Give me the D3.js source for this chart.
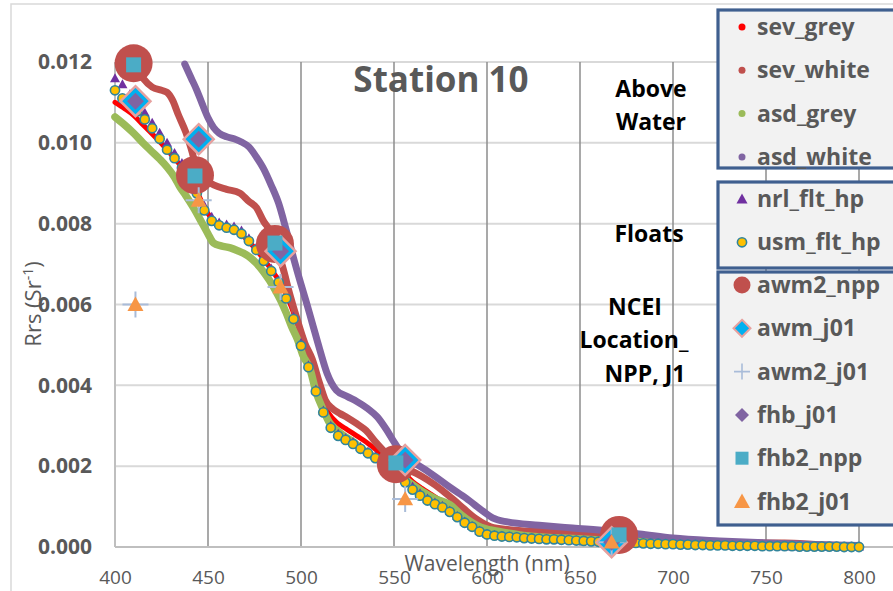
<!DOCTYPE html>
<html>
<head>
<meta charset="utf-8">
<script src="https://cdn.jsdelivr.net/npm/d3@7"></script>
<style>
  body { margin: 0; background: #fff; }
  text { font-family: "Open Sans", sans-serif; }
</style>
</head>
<body>
<div id="chart"></div>
<script>
// Rrs values below are in units of 1e-3 sr^-1
var xTicks = [400, 450, 500, 550, 600, 650, 700, 750, 800];
var yTicks = [0, 2, 4, 6, 8, 10, 12];

// above water, spectrometer lines [wavelength, Rrs]
var sevGrey = [[400,11.0],[405,10.85],[410,10.68],[415,10.45],[420,10.22],[425,9.98],[430,9.72],[435,9.45],[440,9.15],[445,8.7],
  [450,8.25],[455,8.0],[460,7.9],[465,7.82],[470,7.65],[475,7.4],[480,7.12],[485,6.8],[490,6.45],[495,5.92],[500,5.25],[505,4.5],
  [510,3.8],[515,3.3],[520,3.05],[525,2.9],[530,2.75],[535,2.6],[540,2.42],[545,2.25],[550,2.08],[555,1.85],[560,1.62],[565,1.45],
  [570,1.3],[580,1.0],[590,0.65],[600,0.42],[620,0.3],[640,0.24],[660,0.19],[680,0.14],[700,0.11],[720,0.08],[740,0.06],[755,0.05],
  [762,0.1],[770,0.04],[800,0.02]];
var sevWhite = [[410,11.97],[415,11.6],[420,11.38],[425,11.3],[428,11.25],[431,11.05],[434,10.7],[438,10.27],[441,9.85],[444,9.35],
  [448,9.1],[453,8.96],[460,8.85],[467,8.76],[472,8.55],[476,8.4],[480,8.05],[483,7.85],[486,7.5],[490,6.95],[494,6.25],[498,5.62],
  [502,5.05],[506,4.65],[510,4.05],[513,3.64],[517,3.42],[521,3.3],[525,3.2],[530,3.05],[535,2.88],[540,2.6],[545,2.35],[551,2.08],
  [556,1.95],[562,1.82],[568,1.66],[576,1.4],[585,1.05],[594,0.7],[602,0.5],[612,0.43],[630,0.38],[650,0.32],[670,0.26],[690,0.2],
  [710,0.14],[730,0.1],[760,0.1],[780,0.05],[800,0.03]];
var asdGrey = [[400,10.64],[405,10.45],[410,10.24],[415,10.0],[419,9.82],[424,9.6],[428,9.4],[432,9.15],[435,8.9],[438,8.7],
  [442,8.41],[447,8.0],[450,7.75],[453,7.52],[457,7.45],[462,7.4],[466,7.33],[469,7.27],[473,7.15],[476,7.02],[480,6.8],[483,6.6],
  [486,6.37],[489,6.11],[492,5.8],[495,5.45],[498,5.15],[501,4.75],[505,4.38],[508,3.85],[512,3.39],[515,3.1],[519,2.9],[523,2.75],
  [528,2.6],[533,2.42],[539,2.23],[545,2.05],[551,1.85],[558,1.61],[565,1.38],[572,1.2],[580,1.05],[586,0.8],[592,0.6],[597,0.48],
  [602,0.42],[611,0.35],[621,0.28],[640,0.22],[660,0.18],[680,0.14],[700,0.1],[720,0.07],[740,0.05],[760,0.04],[780,0.03],[800,0.02]];
var asdWhite = [[437.5,11.95],[441,11.6],[444,11.3],[447,10.95],[450,10.62],[453,10.38],[456,10.24],[460,10.15],[464,10.1],[468,10.02],
  [472,9.9],[476,9.65],[480,9.35],[484,8.95],[488,8.5],[492,7.85],[496,7.15],[500,6.5],[503,6.04],[506,5.55],[510,4.9],[514,4.3],
  [519,3.88],[525,3.72],[530,3.6],[536,3.42],[541,3.22],[546,2.9],[550,2.6],[556,2.2],[563,2.02],[572,1.75],[580,1.48],[589,1.2],
  [598,0.88],[603,0.72],[611,0.62],[628,0.54],[646,0.47],[665,0.4],[682,0.32],[700,0.22],[725,0.15],[750,0.1],[775,0.06],[800,0.04]];

// floats, hyperspectral
var wlFloat = [400,404,408,412,416,420,424,428,432,436, 440,444,448,452,456,460,464,468,472,476,
  480,484,488,492,496,500,504,508,512,516, 520,524,528,532,536,540,544,548,552,556,
  560,564,568,572,576,580,584,588,592,596, 600,604,608,612,616,620,624,628,632,636,
  640,644,648,652,656,660,664,668,672,676, 680,684,688,692,696,700,704,708,712,716,
  720,724,728,732,736,740,744,748,752,756, 760,764,768,772,776,780,784,788,792,796, 800];
var nrlFltHp = [11.6,11.45,11.2,10.95,10.75,10.5,10.25,10.0,9.75,9.5, 9.2,8.85,8.45,8.17,8.03,7.98,7.93,7.83,7.64,7.41,
  7.14,6.89,6.6,6.2,5.7,5.05,4.5,3.9,3.38,3.0, 2.8,2.7,2.6,2.48,2.36,2.25,2.14,2.04,1.9,1.68,
  1.5,1.33,1.2,1.1,1.02,0.9,0.77,0.63,0.52,0.4, 0.33,0.3,0.28,0.26,0.25,0.23,0.22,0.21,0.2,0.2,
  0.19,0.18,0.17,0.16,0.15,0.14,0.13,0.12,0.11,0.11, 0.1,0.1,0.09,0.09,0.08,0.08,0.07,0.07,0.06,0.06,
  0.05,0.05,0.05,0.04,0.04,0.04,0.03,0.03,0.03,0.03, 0.02,0.02,0.02,0.02,0.02,0.01,0.01,0.01,0.01,0.01, 0.01];
var usmFltHp = [11.3,11.1,10.95,10.78,10.58,10.36,10.1,9.83,9.62,9.38, 9.1,8.75,8.33,8.07,7.96,7.9,7.85,7.75,7.57,7.35,
  7.08,6.83,6.55,6.15,5.64,4.98,4.45,3.85,3.33,2.95, 2.75,2.65,2.55,2.43,2.32,2.2,2.1,2.0,1.85,1.6,
  1.42,1.27,1.15,1.06,0.98,0.87,0.74,0.6,0.5,0.38, 0.31,0.28,0.26,0.25,0.24,0.22,0.21,0.2,0.19,0.19,
  0.18,0.17,0.16,0.15,0.14,0.13,0.12,0.11,0.1,0.1, 0.1,0.09,0.08,0.08,0.07,0.07,0.06,0.06,0.05,0.05,
  0.04,0.04,0.04,0.03,0.03,0.03,0.03,0.02,0.02,0.02, 0.02,0.02,0.01,0.01,0.01,0.01,0.01,0.01,0,0, 0];

// satellite matchups (NCEI location)
var wlNpp = [410, 443, 486, 551, 671];
var wlJ01 = [411, 445, 489, 556, 667];
var awm2Npp = [11.97, 9.2, 7.5, 2.05, 0.3];
var awmJ01 = [11.03, 10.09, 7.32, 2.15, 0.12];
var awm2J01 = [6.0, 8.58, 6.43, 1.19, 0.12];
var fhbJ01 = [11.03, 10.09, 7.32, 2.15, 0.12];
var fhb2Npp = [11.93, 9.18, 7.52, 2.08, 0.3];
var fhb2J01 = [6.0, 8.58, 6.43, 1.19, 0.12];

var legendNames = ["sev_grey", "sev_white", "asd_grey", "asd_white", "nrl_flt_hp", "usm_flt_hp",
  "awm2_npp", "awm_j01", "awm2_j01", "fhb_j01", "fhb2_npp", "fhb2_j01"];
var groupLabels = [["Above", "Water"], ["Floats"], ["NCEI", "Location_", "NPP, J1"]];

var width = 893, height = 591;
var svg = d3.select("#chart").append("svg")
    .attr("width", width)
    .attr("height", height);

svg.append("rect").attr("width", width).attr("height", height).attr("fill", "#fff");
// chart area border
svg.append("rect")
    .attr("x", 11).attr("y", 4)
    .attr("width", 900).attr("height", 600)
    .attr("fill", "none").attr("stroke", "#d9d9d9").attr("stroke-width", 1.5);

var x = d3.scaleLinear().domain([400, 800]).range([115, 859]);
var y = d3.scaleLinear().domain([0, 12]).range([547, 62]);

// grid
svg.append("g").selectAll("line")
    .data(yTicks.filter(function (d) { return d > 0; }))
    .enter().append("line")
    .attr("x1", x(400)).attr("x2", 900)
    .attr("y1", function (d) { return y(d); })
    .attr("y2", function (d) { return y(d); })
    .attr("stroke", "#d9d9d9").attr("stroke-width", 2);

svg.append("g").selectAll("line")
    .data(xTicks.filter(function (d) { return d > 400; }))
    .enter().append("line")
    .attr("x1", function (d) { return x(d); })
    .attr("x2", function (d) { return x(d); })
    .attr("y1", y(12)).attr("y2", y(0))
    .attr("stroke", "#8c8c8c").attr("stroke-width", 1.5);

// axis lines
svg.append("line").attr("x1", x(400)).attr("x2", x(400)).attr("y1", y(12)).attr("y2", y(0))
    .attr("stroke", "#bfbfbf").attr("stroke-width", 2);
svg.append("line").attr("x1", x(400)).attr("x2", 900).attr("y1", y(0)).attr("y2", y(0))
    .attr("stroke", "#bfbfbf").attr("stroke-width", 2);

// tick labels
var yAxis = svg.append("g")
    .attr("transform", "translate(" + x(400) + ",0)")
    .call(d3.axisLeft(y).tickValues(yTicks).tickSize(0).tickPadding(23)
        .tickFormat(function (d) { return (d / 1000).toFixed(3); }));
yAxis.select(".domain").remove();
yAxis.selectAll("text")
    .attr("font-family", "Open Sans").attr("font-size", 21).attr("font-weight", "bold").attr("fill", "#595959");

var xAxis = svg.append("g")
    .attr("transform", "translate(0," + y(0) + ")")
    .call(d3.axisBottom(x).tickValues(xTicks).tickSize(0).tickPadding(24)
        .tickFormat(d3.format("d")));
xAxis.select(".domain").remove();
xAxis.selectAll("text")
    .attr("font-family", "Open Sans").attr("font-size", 19).attr("fill", "#595959");

// axis titles (the x title sits over the tick labels, as in the original)
svg.append("text")
    .attr("x", 487).attr("y", 571)
    .attr("text-anchor", "middle")
    .attr("font-size", 21).attr("fill", "#595959")
    .text("Wavelength (nm)");

var yTitle = svg.append("text")
    .attr("transform", "translate(41,304) rotate(-90)")
    .attr("text-anchor", "middle")
    .attr("font-size", 22).attr("fill", "#595959");
yTitle.append("tspan").text("Rrs (Sr");
yTitle.append("tspan").attr("font-size", 14).attr("dy", -8).text("-1");
yTitle.append("tspan").attr("dy", 8).text(")");

// title
svg.append("text")
    .attr("x", 441).attr("y", 92)
    .attr("text-anchor", "middle")
    .attr("font-size", 35).attr("font-weight", "bold").attr("fill", "#595959")
    .text("Station 10");

// group notes
var notePos = [[[651, 97], [651, 130]], [[649, 242]], [[635, 315], [634, 348], [645, 382]]];
groupLabels.forEach(function (lines, i) {
    lines.forEach(function (t, j) {
        svg.append("text")
            .attr("x", notePos[i][j][0]).attr("y", notePos[i][j][1])
            .attr("text-anchor", "middle")
            .attr("font-size", 23).attr("font-weight", "bold").attr("fill", "#000")
            .text(t);
    });
});

// marker shapes
function shape(type, s) {
    if (type === "diamond") return "M0," + (-s) + "L" + s + ",0L0," + s + "L" + (-s) + ",0Z";
    if (type === "square") return "M" + (-s) + "," + (-s) + "H" + s + "V" + s + "H" + (-s) + "Z";
    if (type === "triangle") return "M0," + (-s) + "L" + s + "," + (s * 0.8) + "L" + (-s) + "," + (s * 0.8) + "Z";
    if (type === "plus") return "M" + (-s) + ",0H" + s + "M0," + (-s) + "V" + s;
    return "";
}

var line = d3.line()
    .x(function (d) { return x(d[0]); })
    .y(function (d) { return y(d[1]); })
    .curve(d3.curveMonotoneX);

var lineSeries = [
    { data: sevGrey, color: "#ff0000", w: 5 },
    { data: sevWhite, color: "#c0504d", w: 7 },
    { data: asdGrey, color: "#9bbb59", w: 7.5 },
    { data: asdWhite, color: "#8064a2", w: 7 }
];
lineSeries.forEach(function (s) {
    svg.append("path")
        .datum(s.data)
        .attr("d", line)
        .attr("fill", "none")
        .attr("stroke", s.color)
        .attr("stroke-width", s.w)
        .attr("stroke-linecap", "round")
        .attr("stroke-linejoin", "round");
});

function pairs(wl, vals) {
    return wl.map(function (w, i) { return [w, vals[i]]; });
}

// floats
svg.append("g").selectAll("path")
    .data(pairs(wlFloat, nrlFltHp))
    .enter().append("path")
    .attr("transform", function (d) { return "translate(" + x(d[0]) + "," + y(d[1]) + ")"; })
    .attr("d", shape("triangle", 5))
    .attr("fill", "#7030a0");

svg.append("g").selectAll("circle")
    .data(pairs(wlFloat, usmFltHp))
    .enter().append("circle")
    .attr("cx", function (d) { return x(d[0]); })
    .attr("cy", function (d) { return y(d[1]); })
    .attr("r", 4.6)
    .attr("fill", "#ffc000")
    .attr("stroke", "#31859c")
    .attr("stroke-width", 1.6);

// satellite markers
var markerSeries = [
    { wl: wlNpp, v: awm2Npp, type: "circle", s: 19, fill: "#c0504d" },
    { wl: wlJ01, v: awmJ01, type: "diamond", s: 15, fill: "#00b0f0", stroke: "#e6a19f", sw: 2.5 },
    { wl: wlJ01, v: awm2J01, type: "plus", s: 13, fill: "none", stroke: "#a9bcd9", sw: 2 },
    { wl: wlJ01, v: fhbJ01, type: "diamond", s: 8.5, fill: "#8064a2" },
    { wl: wlNpp, v: fhb2Npp, type: "square", s: 7.5, fill: "#4bacc6" },
    { wl: wlJ01, v: fhb2J01, type: "triangle", s: 8, fill: "#f79646" }
];
markerSeries.forEach(function (m) {
    var g = svg.append("g");
    var pts = pairs(m.wl, m.v);
    if (m.type === "circle") {
        g.selectAll("circle").data(pts).enter().append("circle")
            .attr("cx", function (d) { return x(d[0]); })
            .attr("cy", function (d) { return y(d[1]); })
            .attr("r", m.s).attr("fill", m.fill);
    } else {
        g.selectAll("path").data(pts).enter().append("path")
            .attr("transform", function (d) { return "translate(" + x(d[0]) + "," + y(d[1]) + ")"; })
            .attr("d", shape(m.type, m.s))
            .attr("fill", m.fill)
            .attr("stroke", m.stroke || "none")
            .attr("stroke-width", m.sw || 0);
    }
});

// legend boxes
var boxes = [
    { y0: 10, y1: 168, first: 17, items: [0, 1, 2, 3] },
    { y0: 182, y1: 268, first: 17, items: [4, 5] },
    { y0: 272, y1: 525, first: 13, items: [6, 7, 8, 9, 10, 11] }
];
var legendMarks = [
    { type: "circle", s: 3.5, fill: "#ff0000" },
    { type: "circle", s: 3.5, fill: "#c0504d" },
    { type: "circle", s: 3.5, fill: "#9bbb59" },
    { type: "circle", s: 3.5, fill: "#8064a2" },
    { type: "triangle", s: 5.5, fill: "#7030a0" },
    { type: "circle", s: 4.6, fill: "#ffc000", stroke: "#31859c", sw: 1.6 },
    { type: "circle", s: 8.5, fill: "#c0504d" },
    { type: "diamond", s: 8.5, fill: "#00b0f0", stroke: "#e6a19f", sw: 2 },
    { type: "plus", s: 8, fill: "none", stroke: "#a9bcd9", sw: 1.6 },
    { type: "diamond", s: 7, fill: "#8064a2" },
    { type: "square", s: 6.5, fill: "#4bacc6" },
    { type: "triangle", s: 8, fill: "#f79646" }
];
boxes.forEach(function (b) {
    svg.append("rect")
        .attr("x", 718).attr("y", b.y0)
        .attr("width", 200).attr("height", b.y1 - b.y0)
        .attr("fill", "#f2f2f2")
        .attr("stroke", "#3f5f8f").attr("stroke-width", 3.2);
    b.items.forEach(function (k, i) {
        var cy = b.y0 + b.first + i * 43.3;
        var m = legendMarks[k];
        if (m.type === "circle") {
            svg.append("circle").attr("cx", 742).attr("cy", cy).attr("r", m.s)
                .attr("fill", m.fill).attr("stroke", m.stroke || "none").attr("stroke-width", m.sw || 0);
        } else {
            svg.append("path").attr("transform", "translate(742," + cy + ")")
                .attr("d", shape(m.type, m.s))
                .attr("fill", m.fill).attr("stroke", m.stroke || "none").attr("stroke-width", m.sw || 0);
        }
        svg.append("text")
            .attr("x", 757).attr("y", cy).attr("dy", "0.35em")
            .attr("font-size", 23).attr("font-weight", "bold").attr("fill", "#595959")
            .text(legendNames[k]);
    });
});
</script>
</body>
</html>
